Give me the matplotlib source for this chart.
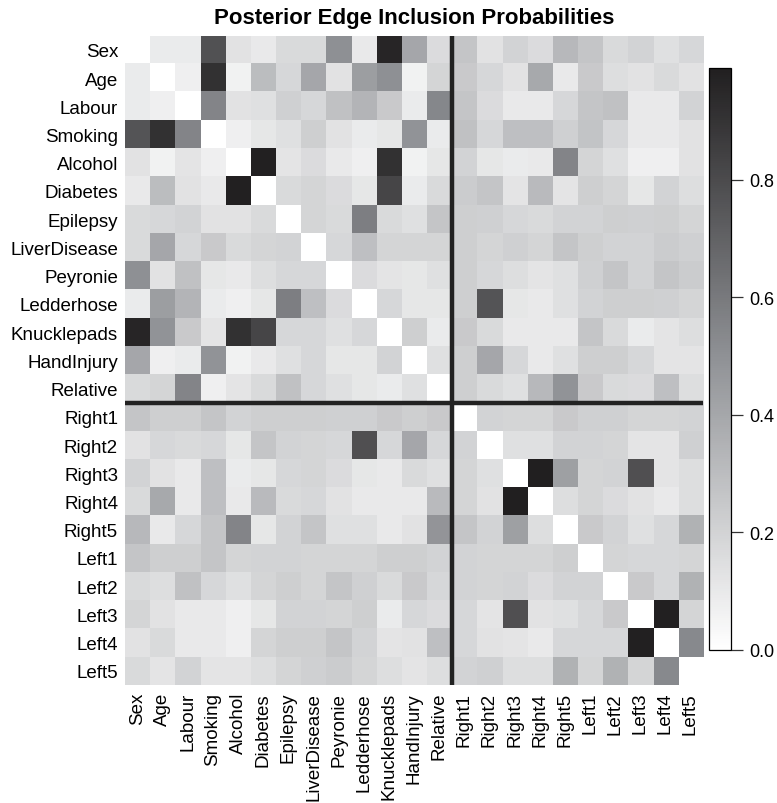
import numpy as np
import matplotlib
matplotlib.use("Agg")
import matplotlib.pyplot as plt
from matplotlib.colors import LinearSegmentedColormap, Normalize

plt.rcParams['font.family'] = ['Liberation Sans', 'DejaVu Sans']

# Variablen
nodes = ['Sex', 'Age', 'Labour', 'Smoking', 'Alcohol', 'Diabetes', 'Epilepsy',
         'LiverDisease', 'Peyronie', 'Ledderhose', 'Knucklepads', 'HandInjury',
         'Relative', 'Right1', 'Right2', 'Right3', 'Right4', 'Right5',
         'Left1', 'Left2', 'Left3', 'Left4', 'Left5']

# Inklusionswahrscheinlichkeiten, Zeile fuer Zeile
sex          = [0, 0.09, 0.09, 0.77, 0.13, 0.10, 0.17, 0.17, 0.50, 0.10, 0.96, 0.40, 0.16, 0.26, 0.13, 0.20, 0.16, 0.32, 0.26, 0.17, 0.20, 0.14, 0.18]
age          = [0.09, 0, 0.07, 0.91, 0.06, 0.30, 0.18, 0.40, 0.13, 0.44, 0.50, 0.06, 0.19, 0.24, 0.18, 0.13, 0.39, 0.10, 0.24, 0.15, 0.13, 0.17, 0.13]
labour       = [0.09, 0.07, 0, 0.55, 0.13, 0.14, 0.21, 0.18, 0.28, 0.34, 0.24, 0.09, 0.54, 0.26, 0.16, 0.10, 0.10, 0.18, 0.26, 0.28, 0.10, 0.10, 0.20]
smoking      = [0.76, 0.91, 0.55, 0, 0.07, 0.11, 0.14, 0.22, 0.13, 0.09, 0.11, 0.49, 0.09, 0.28, 0.18, 0.29, 0.29, 0.21, 0.27, 0.18, 0.10, 0.10, 0.13]
alcohol      = [0.13, 0.06, 0.12, 0.07, 0, 0.98, 0.12, 0.16, 0.10, 0.07, 0.91, 0.06, 0.11, 0.20, 0.11, 0.09, 0.10, 0.55, 0.19, 0.14, 0.07, 0.07, 0.13]
diabetes     = [0.10, 0.30, 0.13, 0.10, 0.98, 0, 0.17, 0.19, 0.16, 0.11, 0.82, 0.09, 0.17, 0.23, 0.26, 0.12, 0.31, 0.12, 0.22, 0.19, 0.11, 0.20, 0.15]
epilepsy     = [0.17, 0.18, 0.20, 0.13, 0.13, 0.17, 0, 0.19, 0.17, 0.58, 0.17, 0.14, 0.26, 0.22, 0.21, 0.18, 0.17, 0.20, 0.20, 0.22, 0.21, 0.22, 0.19]
liverdisease = [0.17, 0.40, 0.18, 0.24, 0.17, 0.19, 0.20, 0, 0.18, 0.29, 0.19, 0.19, 0.19, 0.22, 0.19, 0.21, 0.19, 0.26, 0.22, 0.20, 0.20, 0.23, 0.21]
peyronie     = [0.50, 0.13, 0.28, 0.11, 0.10, 0.15, 0.18, 0.18, 0, 0.16, 0.12, 0.11, 0.14, 0.22, 0.18, 0.15, 0.12, 0.14, 0.21, 0.26, 0.20, 0.26, 0.23]
ledderhose   = [0.09, 0.44, 0.34, 0.09, 0.07, 0.11, 0.58, 0.29, 0.16, 0, 0.18, 0.11, 0.11, 0.22, 0.76, 0.11, 0.10, 0.14, 0.20, 0.22, 0.22, 0.21, 0.19]
knucklepads  = [0.96, 0.49, 0.24, 0.12, 0.91, 0.82, 0.18, 0.18, 0.14, 0.18, 0, 0.22, 0.09, 0.24, 0.17, 0.10, 0.10, 0.10, 0.26, 0.17, 0.09, 0.12, 0.15]
handinjury   = [0.40, 0.07, 0.09, 0.49, 0.06, 0.10, 0.14, 0.18, 0.11, 0.11, 0.20, 0, 0.14, 0.22, 0.40, 0.18, 0.10, 0.14, 0.22, 0.22, 0.18, 0.12, 0.12]
relative     = [0.17, 0.19, 0.55, 0.07, 0.12, 0.17, 0.28, 0.18, 0.14, 0.11, 0.09, 0.14, 0, 0.22, 0.17, 0.14, 0.32, 0.49, 0.24, 0.17, 0.16, 0.29, 0.15]
right1       = [0.26, 0.22, 0.22, 0.26, 0.20, 0.22, 0.22, 0.22, 0.21, 0.21, 0.24, 0.22, 0.24, 0, 0.20, 0.19, 0.19, 0.24, 0.21, 0.21, 0.19, 0.19, 0.20]
right2       = [0.13, 0.18, 0.17, 0.18, 0.11, 0.26, 0.20, 0.19, 0.18, 0.78, 0.18, 0.40, 0.18, 0.20, 0, 0.14, 0.14, 0.20, 0.20, 0.19, 0.12, 0.12, 0.21]
right3       = [0.20, 0.13, 0.10, 0.29, 0.09, 0.11, 0.18, 0.19, 0.16, 0.11, 0.10, 0.17, 0.14, 0.19, 0.14, 0, 0.99, 0.43, 0.19, 0.20, 0.78, 0.12, 0.15]
right4       = [0.17, 0.39, 0.10, 0.29, 0.10, 0.31, 0.17, 0.18, 0.13, 0.10, 0.10, 0.10, 0.31, 0.19, 0.13, 0.99, 0, 0.15, 0.19, 0.16, 0.13, 0.10, 0.15]
right5       = [0.32, 0.10, 0.18, 0.26, 0.55, 0.11, 0.20, 0.26, 0.14, 0.14, 0.10, 0.13, 0.48, 0.26, 0.20, 0.43, 0.15, 0, 0.24, 0.20, 0.14, 0.18, 0.35]
left1        = [0.26, 0.22, 0.22, 0.26, 0.19, 0.20, 0.20, 0.19, 0.19, 0.19, 0.22, 0.22, 0.20, 0.20, 0.19, 0.19, 0.19, 0.22, 0, 0.19, 0.18, 0.18, 0.19]
left2        = [0.17, 0.15, 0.28, 0.18, 0.14, 0.19, 0.22, 0.19, 0.26, 0.21, 0.17, 0.24, 0.18, 0.20, 0.19, 0.20, 0.16, 0.20, 0.20, 0, 0.24, 0.18, 0.35]
left3        = [0.19, 0.13, 0.10, 0.10, 0.07, 0.11, 0.20, 0.20, 0.19, 0.22, 0.09, 0.18, 0.16, 0.18, 0.12, 0.78, 0.13, 0.14, 0.18, 0.24, 0, 0.98, 0.19]
left4        = [0.13, 0.17, 0.10, 0.10, 0.07, 0.19, 0.22, 0.22, 0.26, 0.20, 0.12, 0.13, 0.29, 0.18, 0.13, 0.12, 0.10, 0.18, 0.18, 0.18, 0.98, 0, 0.53]
left5        = [0.17, 0.12, 0.20, 0.12, 0.12, 0.15, 0.19, 0.21, 0.23, 0.19, 0.15, 0.12, 0.15, 0.20, 0.21, 0.15, 0.15, 0.35, 0.19, 0.35, 0.19, 0.53, 0]

P = np.array([sex, age, labour, smoking, alcohol, diabetes, epilepsy, liverdisease,
              peyronie, ledderhose, knucklepads, handinjury, relative,
              right1, right2, right3, right4, right5,
              left1, left2, left3, left4, left5])

n_cov = 13  # Kovariablen vor den Fingern

cmap = LinearSegmentedColormap.from_list('grau', ['#ffffff', '#909296', '#211f20'])
norm = Normalize(vmin=0, vmax=0.99)

fig = plt.figure(figsize=(7.77, 8.04), dpi=100)
ax = fig.add_axes([0.1609, 0.1468, 0.7439, 0.8076])
cax = fig.add_axes([0.9125, 0.1903, 0.0283, 0.7239])

im = ax.imshow(P, cmap=cmap, norm=norm, aspect='auto', interpolation='nearest')
ax.axhline(n_cov - 0.5, color='#222222', lw=3.2)
ax.axvline(n_cov - 0.5, color='#222222', lw=3.2)

ax.set_xticks(range(len(nodes)))
ax.set_xticklabels(nodes, rotation=90, fontsize=13.5)
ax.set_yticks(range(len(nodes)))
ax.set_yticklabels(nodes, fontsize=13.5)
ax.tick_params(length=0, pad=5)
for s in ax.spines.values():
    s.set_visible(False)

cb = fig.colorbar(im, cax=cax)
cb.set_ticks([0.0, 0.2, 0.4, 0.6, 0.8])
cb.ax.tick_params(labelsize=13, length=8.5, width=0.9, pad=4.5, color='#333333')
cb.outline.set_linewidth(0.9)

fig.text(0.533, 0.977, 'Posterior Edge Inclusion Probabilities', ha='center', va='center',
         fontsize=16, fontweight='bold')

fig.savefig('out.png', dpi=100)
